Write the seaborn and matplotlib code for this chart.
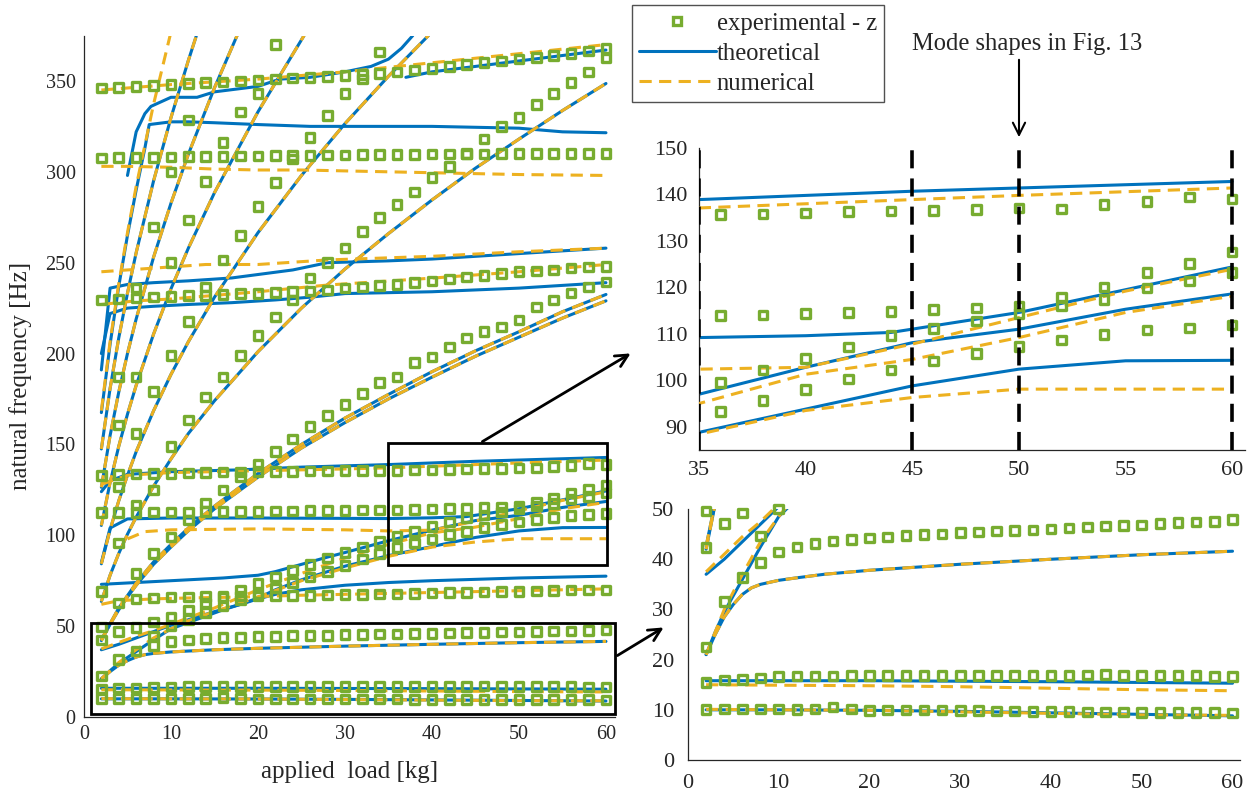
import matplotlib
matplotlib.use("Agg")
import matplotlib.pyplot as plt
from matplotlib.lines import Line2D
from matplotlib.patches import Rectangle, FancyArrowPatch
import seaborn as sns

sns.set_style("white")
plt.rcParams['font.family'] = ['Liberation Serif', 'DejaVu Serif']

BLUE = '#0072BD'
ORANGE = '#EDB120'
GREEN = '#77AC30'

# ---------------- experimental - z (every 2 kg) ----------------
loads = [2, 4, 6, 8, 10, 12, 14, 16, 18, 20, 22, 24, 26, 28, 30,
         32, 34, 36, 38, 40, 42, 44, 46, 48, 50, 52, 54, 56, 58, 60]
exp_10 = [10.1, 10.2, 10.2, 10.2, 10.2, 10.1, 10.2, 10.6, 10.2, 9.9, 10.0, 10.0, 10.0, 10.0, 9.9,
          9.9, 9.8, 9.8, 9.7, 9.7, 9.7, 9.6, 9.6, 9.6, 9.5, 9.5, 9.5, 9.5, 9.5, 9.4]
exp_16 = [15.4, 15.9, 16.0, 16.3, 16.6, 16.7, 16.7, 16.7, 16.8, 16.8, 16.8, 16.8, 16.8, 16.8, 16.8,
          16.8, 16.8, 16.8, 16.8, 16.8, 16.8, 16.9, 17.0, 16.8, 16.8, 16.8, 16.8, 16.8, 16.6, 16.6]
exp_44 = [22.5, 31.6, 36.4, 39.3, 41.4, 42.4, 43.1, 43.6, 43.9, 44.2, 44.4, 44.7, 44.9, 45.0, 45.3,
          45.4, 45.6, 45.7, 45.8, 46.0, 46.2, 46.4, 46.6, 46.7, 46.8, 47.1, 47.3, 47.4, 47.5, 47.9]
exp_70 = [69.0, 62.7, 65.0, 65.5, 66.0, 66.0, 66.2, 66.4, 66.5, 66.5, 66.7, 66.8, 67.0, 67.2, 67.3,
          67.5, 67.7, 67.8, 68.0, 68.2, 68.4, 68.6, 68.8, 69.0, 69.2, 69.4, 69.6, 69.8, 69.9, 70.0]
exp_112 = [112.4, 112.5, 112.6, 112.7, 112.8, 112.9, 113.0, 113.0, 113.1, 113.2, 113.3, 113.4, 113.5, 113.6, 113.7,
           113.8, 113.8, 113.9, 114.1, 114.4, 114.6, 114.8, 115.2, 115.6, 116.0, 117.9, 120.1, 123.2, 125.1, 127.6]
exp_135 = [133.0, 133.3, 133.6, 133.9, 134.1, 134.3, 134.5, 134.7, 134.8, 135.0, 135.1, 135.2, 135.3, 135.4, 135.5,
           135.6, 135.6, 135.7, 135.8, 136.0, 136.3, 136.4, 136.6, 136.8, 137.1, 136.9, 137.8, 138.5, 139.5, 139.0]
exp_230 = [229.5, 230, 230.5, 231, 231.5, 232, 232, 232.5, 233, 233, 233.5, 234, 234.5, 235, 236,
           236.7, 237.5, 238, 239, 240, 241, 242, 243, 244, 245, 245.5, 246, 247, 247.5, 248]
exp_308 = [307.5, 307.8, 308, 308, 308.2, 308.3, 308.5, 308.5, 308.7, 308.8, 309, 309, 309.1, 309.2, 309.3,
           309.4, 309.5, 309.5, 309.6, 309.7, 309.8, 309.8, 309.9, 310, 310, 310, 310.1, 310.1, 310.2, 310.2]
exp_346 = [346, 346.5, 347, 347.5, 348, 348.5, 349, 349.5, 350, 350.5, 351, 351.5, 352, 352.5, 353,
           353.5, 354, 355, 356, 357, 358, 359, 360, 361, 362, 363, 364, 365, 366.5, 368]

diag_lo_x = [8, 10, 12, 14, 16, 18, 20, 22, 24, 26, 28, 30, 32, 34, 36, 38, 40, 42, 44, 46, 48, 50, 52, 54, 56, 58, 60]
diag_lo_y = [44.6, 50.0, 53.5, 57.5, 61, 64.5, 68, 71, 74, 77, 80, 83.5, 87, 90, 93.3, 95.7, 98.0, 100.3, 102.2,
             104.2, 105.8, 107.3, 108.7, 109.9, 110.8, 111.3, 111.9]
diag_hi_x = [8, 10, 12, 14, 16, 18, 20, 22, 24, 26, 28, 30, 32, 34, 36, 38, 40, 42, 44, 46, 48, 50, 52, 54, 56, 58, 60]
diag_hi_y = [52.3, 55, 59, 62.7, 66, 70, 73.5, 77, 80.5, 84, 87.5, 90.5, 93.5, 96.5, 99.5, 102.2, 104.7, 107.2,
             109.6, 111.2, 112.8, 114.4, 116.0, 117.4, 119.9, 121.4, 123.2]
str2_x = [6, 8, 10, 12, 14, 16, 18, 20, 22, 24, 26, 28, 30, 32, 34, 36, 38, 40, 42, 44, 46, 48, 50, 52, 54, 56, 58, 60]
str2_y = [79, 90, 99, 108.4, 117.8, 125, 132, 139, 146, 153, 160, 166, 172, 178, 184, 187, 195, 198, 203.6, 208.6,
          212, 214.6, 218.5, 225.6, 229.5, 233.4, 236.7, 239.4]
str3_x = [8, 10, 12, 14, 16, 18, 20, 22, 24, 26, 28, 30, 32, 34, 36, 38, 40, 42, 44, 46, 48, 50, 52, 54, 56, 58, 60]
str3_y = [125, 148.8, 163.5, 176, 187, 199, 210, 220, 229.5, 241.6, 250, 258, 267, 275, 282, 289, 297, 303, 310,
          318, 325, 330, 337, 343, 349, 355, 362.7]
str4_x = [10, 12, 14, 16, 18, 20, 22, 24, 26, 28, 30, 32, 34]
str4_y = [199, 217.6, 236.7, 251.5, 265, 281, 294, 307, 319, 331, 343, 351, 366]
str5_x = [12, 14, 16, 18, 20, 22, 8, 10, 12]
str5_y = [273.5, 294.6, 316, 333, 343, 370, 269.7, 300, 328.6]
misc_x = [2, 2, 4, 6, 4, 6, 8, 4, 6, 6, 10, 4, 4, 6]
misc_y = [42.3, 49.6, 47.1, 49.2, 187, 187, 179, 160.7, 156, 236, 250, 95.8, 126.6, 116.7]

# ---------------- theoretical ----------------
th_1 = ([2, 10, 20, 30, 40, 50, 60], [10.0, 10.0, 9.9, 9.7, 9.4, 9.1, 8.8])
th_2 = ([2, 20, 40, 60], [15.8, 15.8, 15.6, 15.3])
th_3 = ([2, 3, 4, 5, 6, 7, 8, 10, 12, 15, 20, 30, 40, 50, 60],
        [21, 25, 28.5, 31, 33, 34.3, 35, 35.8, 36.3, 37, 37.8, 39, 40, 40.9, 41.6])
th_4 = ([2, 3, 4, 6, 8, 10, 12, 14, 16, 18, 20, 22, 25, 30, 35, 40, 50, 60],
        [21, 25.5, 29.5, 36, 42.5, 48.5, 52, 55.5, 59, 62, 65, 67.5, 70, 72.5, 74, 75, 76.5, 77.5])
th_5 = ([2, 4, 6, 8, 10, 12, 15, 18, 20, 22, 25, 30, 35, 40, 45, 50, 55, 60],
        [37, 40, 43.5, 47, 50.5, 53.5, 58, 62, 65.5, 70, 75.5, 83, 88.8, 93.8, 98.8, 102.4, 104.2, 104.3])
th_6 = ([2, 4, 8, 12, 16, 20, 22, 25, 28, 30, 35, 40, 45, 50, 55, 60],
        [73, 73.5, 74.5, 75.5, 76.5, 78, 80, 84, 88, 90.5, 97, 102.8, 108.1, 111, 115.3, 118.6])
th_109 = ([2, 3, 5, 10, 20, 30, 35, 40, 44, 50, 55, 60],
          [85, 104, 109, 109.5, 109.5, 109.3, 109.2, 109.6, 110.3, 114.6, 119.5, 124.4])
th_135 = ([2, 3, 5, 10, 18, 25, 35, 45, 50, 60],
          [124, 130, 133.5, 135, 136, 137.5, 138.9, 140.7, 141.4, 142.8])
th_230 = ([2, 3, 5, 8, 12, 17, 22, 26, 30, 40, 50, 60],
          [200, 222, 225, 226, 227, 228, 229.5, 231, 233, 234, 236, 239])
th_245 = ([2, 3, 5, 8, 12, 17, 24, 28, 35, 40, 50, 60],
          [191, 236, 238, 239, 240, 241.6, 246, 250, 251, 252, 255, 258])
th_325 = ([2, 3, 4, 5, 6, 7, 7.5, 10, 12, 15, 20, 26, 30, 40, 50, 55, 60],
          [167.5, 205, 237, 265, 290, 313, 326, 327.5, 327.5, 327, 326, 325, 325, 325, 324, 322, 321.5])
th_340 = ([5, 6, 7, 7.7, 10, 13, 15, 20, 22.5, 26, 30, 33, 35, 36.5, 37.8],
          [298, 322, 332, 336, 341, 341, 344, 347, 351, 352, 355, 358, 362, 368, 375])
th_352 = ([37, 40, 45, 50, 55, 60], [352, 355, 358, 361, 364, 367])

# string modes (theoretical and numerical follow each other)
s2a = ([2, 3, 4, 5, 6, 8, 10, 12, 15, 20, 25, 30, 35, 40, 45, 50, 55, 60],
       [42, 51, 59, 66, 72.5, 84, 93.5, 102.5, 114.5, 132, 148, 162, 175, 187, 198.5, 209, 219.5, 229])
s2b = ([2, 4, 6, 8, 10, 12, 15, 20, 25, 30, 35, 40, 45, 50, 55, 60],
       [42.6, 60, 73.6, 85.3, 95, 104, 116, 134, 150, 164.5, 177.5, 190, 201.5, 212, 223, 232.5])
s3a = ([2, 3, 4, 5, 6, 8, 10, 12, 15, 20, 25, 30, 35, 40, 45, 50, 55, 60],
       [63.6, 78, 90, 100.6, 110, 127, 142, 156, 174, 201, 225, 246.5, 266, 284.5, 302, 318, 333.7, 348.6])
s4a = ([2, 3, 4, 5, 6, 8, 10, 12, 15, 20, 25, 30, 35, 39.6],
       [84.3, 103, 119, 133, 146, 168.5, 188.5, 206.5, 231, 266.5, 298, 326.5, 352.6, 375])
s5a = ([2, 3, 4, 5, 6, 8, 10, 12, 15, 20, 25.3],
       [105.4, 129, 149, 166.6, 182.5, 210.7, 235.6, 258, 288.5, 333, 375])
s6a = ([2, 3, 4, 5, 6, 8, 10, 12, 15, 17.6],
       [126.4, 154.8, 178.8, 200, 219, 253, 282.7, 309.7, 346.2, 375])
s7a = ([2, 3, 4, 5, 6, 8, 10, 12, 12.9],
       [147.5, 180.7, 208.6, 233.2, 255.5, 295, 329.8, 361.3, 374.6])
s8a = ([2, 3, 4, 5, 6, 8, 9.9],
       [168.6, 206.5, 238.4, 266.5, 292, 337.2, 375])

# ---------------- numerical ----------------
nu_1 = ([2, 10, 20, 30, 40, 50, 60], [10.1, 10.0, 9.9, 9.6, 9.3, 9.0, 8.9])
nu_2 = ([2, 10, 20, 30, 40, 50, 60], [15.0, 14.9, 14.8, 14.6, 14.3, 14.0, 13.8])
nu_a = ([2, 4, 6, 8, 10, 12, 15, 20, 25, 30, 35, 40, 45, 50, 55, 60],
        [21, 30, 37, 43.5, 48.5, 53, 58, 66, 75, 82, 88.4, 93.5, 96.3, 98.1, 98.1, 98.1])
nu_b = ([2, 4, 6, 8, 10, 15, 20, 25, 30, 35, 40, 45, 50, 55, 60],
        [37.5, 41, 44.5, 47.5, 51, 60, 70, 79, 87.5, 95, 101.3, 104.5, 109.2, 114.6, 118.1])
nu_70 = ([2, 4, 8, 12, 18, 25, 30, 40, 50, 60], [62, 64, 65, 65.5, 66, 67, 67.5, 68.5, 69.5, 70.5])
nu_103 = ([5, 7, 10, 20, 30, 35, 40, 45, 50, 55, 60],
          [98, 102, 103, 103.5, 103, 102.4, 102.8, 107.8, 113.5, 119.2, 123.9])
nu_137 = ([2, 5, 10, 20, 30, 35, 45, 50, 60], [128, 133, 134.5, 135.5, 136.5, 137.1, 138.9, 139.8, 141.4])
nu_233 = ([2, 6, 10, 15, 20, 28, 40, 50, 60], [227, 229, 230, 232, 234, 237.7, 241.5, 245, 249])
nu_247 = ([2, 8, 14, 20, 28, 40, 50, 60], [245, 247, 249, 249, 251.5, 253.5, 256, 258])
nu_303 = ([2, 5, 10, 15, 20, 25, 30, 40, 50, 60], [303, 303, 302.5, 301.5, 301, 301, 300.5, 299.5, 298.5, 298])
nu_347 = ([2, 10, 20, 30, 40, 50, 60], [345, 348, 351, 355, 360, 365, 370])

theory = [th_1, th_2, th_3, th_4, th_5, th_6, th_109, th_135, th_230, th_245, th_325, th_340, th_352,
          s2a, s2b, s3a, s4a, s5a, s6a, s7a]
numeric = [nu_1, nu_2, th_3, nu_a, nu_b, nu_70, nu_103, nu_137, nu_233, nu_247, nu_303, nu_347,
           s2a, s2b, s3a, s4a, s5a, s6a, s7a, s8a]
experiment = [(loads, exp_10), (loads, exp_16), (loads, exp_44), (loads, exp_70), (loads, exp_112),
              (loads, exp_135), (loads, exp_230), (loads, exp_308), (loads, exp_346),
              (diag_lo_x, diag_lo_y), (diag_hi_x, diag_hi_y), (str2_x, str2_y), (str3_x, str3_y),
              (str4_x, str4_y), (str5_x, str5_y), (misc_x, misc_y)]

DASH = (0, (4, 2.4))


def draw(ax, xlim, ylim):
    for xs, ys in theory:
        sns.lineplot(x=xs, y=ys, ax=ax, color=BLUE, lw=2.2, sort=False, estimator=None, zorder=2)
    for xs, ys in numeric:
        sns.lineplot(x=xs, y=ys, ax=ax, color=ORANGE, lw=2.2, sort=False, estimator=None,
                     linestyle=DASH, zorder=3)
    px, py = [], []
    for xs, ys in experiment:
        for a, b in zip(xs, ys):
            if xlim[0] <= a <= xlim[1] and ylim[0] <= b <= ylim[1]:
                px.append(a)
                py.append(b)
    sns.scatterplot(x=px, y=py, ax=ax, marker='s', s=38, facecolor='none', edgecolor=GREEN,
                    linewidth=2.4, zorder=4, clip_on=False)


def style(ax, size, pad=6):
    sns.despine(ax=ax)
    for s in ['left', 'bottom']:
        ax.spines[s].set_color('0.15')
        ax.spines[s].set_linewidth(0.9)
    ax.tick_params(direction='in', length=5, labelsize=size, colors='0.15', pad=pad)


fig = plt.figure(figsize=(12.57, 7.98), dpi=100)

ax = fig.add_axes([0.0668, 0.1015, 0.4222, 0.854])
draw(ax, (0, 61), (0, 375))
ax.set_xlim(0, 61)
ax.set_ylim(0, 375)
ax.set_xticks([0, 10, 20, 30, 40, 50, 60])
ax.set_yticks([0, 50, 100, 150, 200, 250, 300, 350])
style(ax, 14.5)
ax.set_xlabel("applied  load [kg]", fontsize=18, labelpad=12)
ax.set_ylabel("natural frequency [Hz]", fontsize=18, labelpad=10)
ax.add_patch(Rectangle((34.9, 83.7), 25.2, 67.1, fill=False, lw=2, ec='k', zorder=6, clip_on=False))
ax.add_patch(Rectangle((0.8, 1.6), 60.2, 50.1, fill=False, lw=2, ec='k', zorder=6, clip_on=False))

ax2 = fig.add_axes([0.5561, 0.4361, 0.4343, 0.3784])
draw(ax2, (35, 60), (85, 150))
ax2.set_xlim(35, 60.6)
ax2.set_ylim(85, 150)
ax2.set_xticks([35, 40, 45, 50, 55, 60])
ax2.set_yticks([90, 100, 110, 120, 130, 140, 150])
for v in [35, 45, 50, 60]:
    ax2.axvline(v, color='k', lw=2.6, linestyle=(0, (5, 2.8)), zorder=6)
style(ax2, 16, pad=8)

ax3 = fig.add_axes([0.5473, 0.0476, 0.4390, 0.3145])
draw(ax3, (0, 60), (0, 50))
ax3.set_xlim(0, 60.8)
ax3.set_ylim(0, 50)
ax3.set_xticks([0, 10, 20, 30, 40, 50, 60])
ax3.set_yticks([0, 10, 20, 30, 40, 50])
style(ax3, 16, pad=10)

W, H = 1257, 798


def fpt(x, y):
    return (x / W, 1 - y / H)


for a, b, lw in [((480, 443), (633, 352), 2.0), ((615, 657), (666, 626), 2.0), ((1019, 57), (1019, 140), 1.5)]:
    fig.add_artist(FancyArrowPatch(fpt(*a), fpt(*b), transform=fig.transFigure, arrowstyle='->',
                                   mutation_scale=22, lw=lw, color='k'))

fig.text(1027 / W, 1 - 44 / H, "Mode shapes in Fig. 13", ha='center', va='center', fontsize=17.7)

handles = [Line2D([], [], color=GREEN, marker='s', markerfacecolor='none', markeredgewidth=2.4,
                  markersize=6.2, linestyle='none'),
           Line2D([], [], color=BLUE, lw=2.2),
           Line2D([], [], color=ORANGE, lw=2.2, linestyle=DASH)]
fig.legend(handles, ["experimental - z", "theoretical", "numerical"], loc='upper left',
           bbox_to_anchor=fpt(632, 5), fontsize=17.7, frameon=True, fancybox=False,
           edgecolor='0.15', handlelength=3.1, borderpad=0.3, labelspacing=0.32,
           handletextpad=0.05, borderaxespad=0)

fig.savefig("out.png", dpi=100)
